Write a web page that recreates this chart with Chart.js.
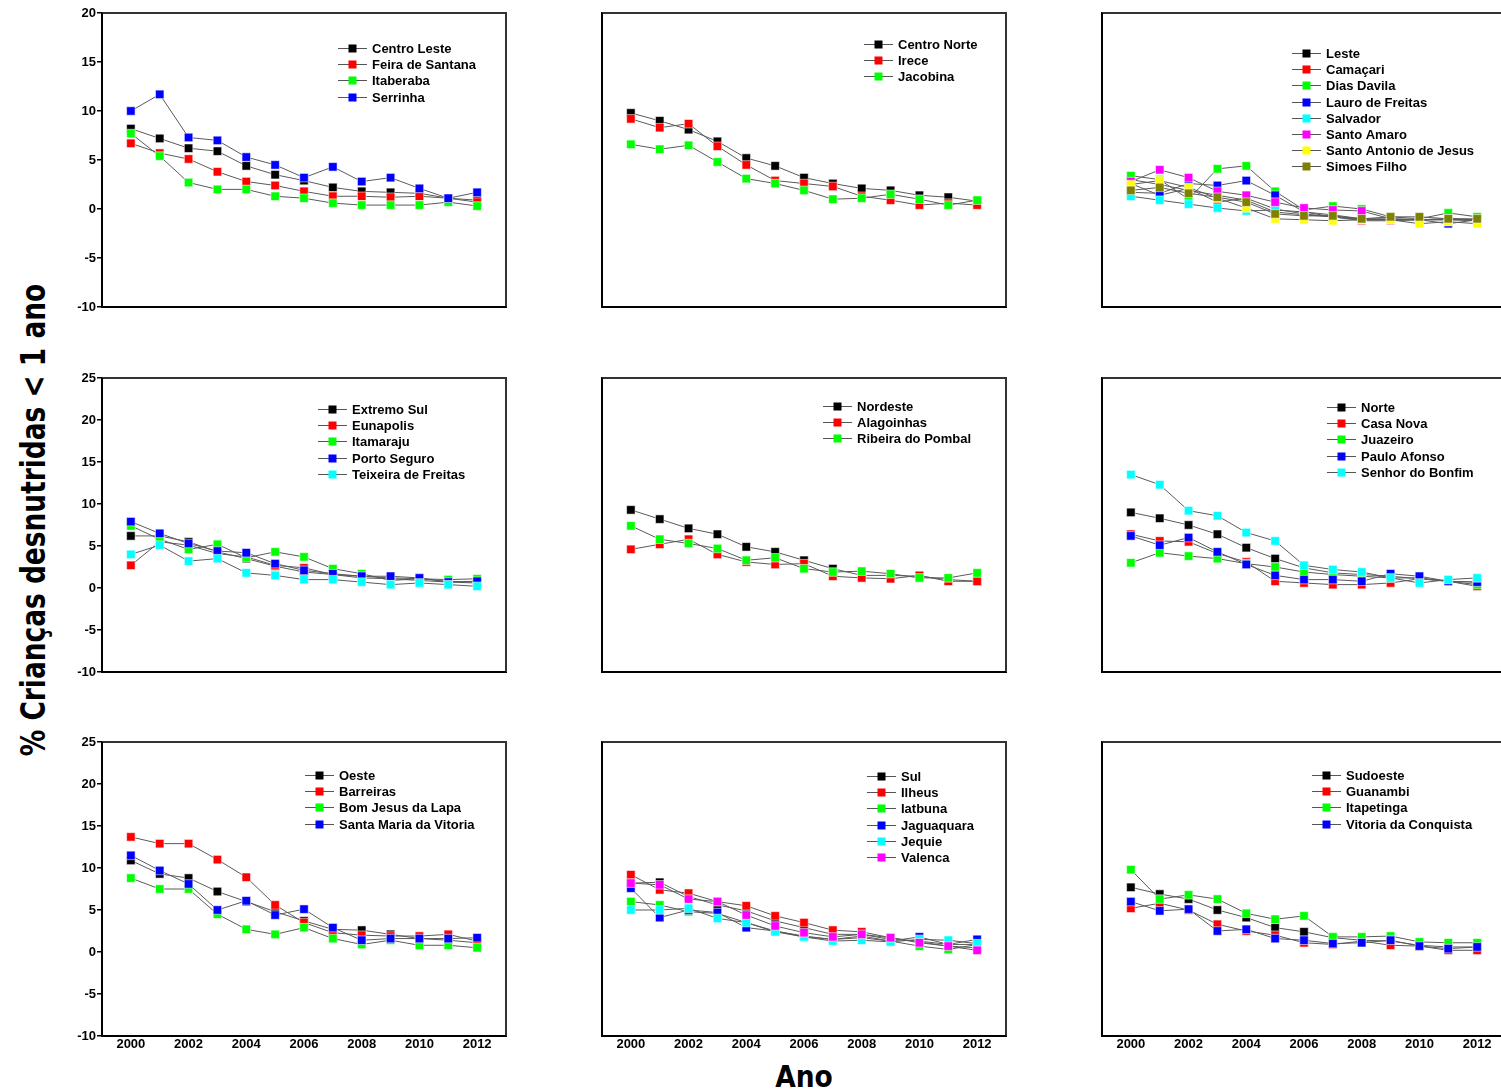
<!DOCTYPE html>
<html>
<head>
<meta charset="utf-8">
<script src="https://cdn.jsdelivr.net/npm/chart.js@4/dist/chart.umd.min.js"></script>
<style>
html,body{margin:0;padding:0;background:#fff;overflow:hidden;width:1501px;height:1092px;}
canvas.pc{position:absolute;}
#ytitle{position:absolute;left:33px;top:520px;transform:translate(-50%,-50%) rotate(-90deg) scaleX(0.89);
  font-family:"Liberation Sans Narrow","DejaVu Sans Condensed","Liberation Sans",sans-serif;font-weight:bold;font-size:33px;white-space:nowrap;color:#000;}
#xtitle{position:absolute;left:804px;top:1076px;transform:translate(-50%,-50%) scaleX(0.95);
  font-family:"Liberation Sans Narrow","DejaVu Sans Condensed","Liberation Sans",sans-serif;font-weight:bold;font-size:31px;white-space:nowrap;color:#000;}
</style>
</head>
<body>
<div id="ytitle">% Crianças desnutridas &lt; 1 ano</div>
<div id="xtitle">Ano</div>
<script>
// ---- categories / ticks ----
const years = [2000,2001,2002,2003,2004,2005,2006,2007,2008,2009,2010,2011,2012];
const xTickLabels = [2000,2002,2004,2006,2008,2010,2012];
const yTicksRow1 = [-10,-5,0,5,10,15,20];
const yTicksRow23 = [-10,-5,0,5,10,15,20,25];

// ---- Centro Leste panel ----
const centroLesteLabels = ["Centro Leste","Feira de Santana","Itaberaba","Serrinha"];
const centroLeste    = [8.2,7.2,6.2,5.9,4.4,3.5,2.9,2.2,1.8,1.7,1.6,1.1,0.9];
const feiraDeSantana = [6.7,5.7,5.1,3.8,2.8,2.4,1.8,1.3,1.3,1.2,1.3,1.1,0.7];
const itaberaba      = [7.7,5.4,2.7,2.0,2.0,1.3,1.1,0.6,0.4,0.4,0.4,0.7,0.3];
const serrinha       = [10.0,11.7,7.3,7.0,5.3,4.5,3.2,4.3,2.8,3.2,2.1,1.1,1.7];

// ---- Centro Norte panel ----
const centroNorteLabels = ["Centro Norte","Irece","Jacobina"];
const centroNorte = [9.8,9.0,8.1,6.9,5.2,4.4,3.2,2.6,2.1,1.9,1.4,1.2,0.8];
const irece       = [9.2,8.3,8.7,6.4,4.5,2.9,2.6,2.3,1.3,0.9,0.4,0.6,0.4];
const jacobina    = [6.6,6.1,6.5,4.8,3.1,2.6,1.9,1.0,1.1,1.5,1.0,0.4,0.9];

// ---- Leste panel ----
const lesteLabels = ["Leste","Camaçari","Dias Davila","Lauro de Freitas","Salvador","Santo Amaro","Santo Antonio de Jesus","Simoes Filho"];
const leste          = [3.0,2.5,1.9,1.4,0.9,-0.3,-0.6,-0.8,-1.0,-1.0,-1.1,-1.1,-1.2];
const camacari       = [2.6,1.4,2.1,0.7,1.1,0.0,-0.5,-0.8,-1.2,-1.2,-1.1,-1.0,-1.1];
const diasDavila     = [3.4,3.0,1.0,4.1,4.4,1.8,-0.1,0.3,0.0,-0.8,-1.0,-0.4,-0.8];
const lauroDeFreitas = [1.7,1.6,2.6,2.4,2.9,1.4,-0.3,-0.8,-1.1,-1.1,-1.1,-1.5,-1.1];
const salvador       = [1.3,0.9,0.5,0.1,-0.2,-0.1,-0.3,-0.6,-1.0,-1.1,-1.1,-1.1,-1.1];
const santoAmaro     = [2.8,4.0,3.2,1.8,1.4,0.7,0.1,-0.1,-0.2,-1.0,-1.1,-1.0,-1.1];
const santoAntonio   = [2.5,2.9,2.2,1.1,0.1,-1.0,-1.1,-1.2,-1.1,-1.1,-1.5,-1.3,-1.5];
const simoesFilho    = [1.9,2.2,1.6,1.2,0.7,-0.5,-0.7,-0.7,-1.0,-0.8,-0.8,-1.0,-1.0];

// ---- Extremo Sul panel ----
const extremoSulLabels = ["Extremo Sul","Eunapolis","Itamaraju","Porto Seguro","Teixeira de Freitas"];
const extremoSul  = [6.2,6.2,5.5,4.3,3.5,2.6,1.9,1.6,1.4,1.2,1.1,0.8,0.7];
const eunapolis   = [2.7,5.5,5.1,4.1,3.7,2.7,2.4,1.6,1.2,1.1,0.9,0.7,0.6];
const itamaraju   = [7.4,5.8,4.6,5.2,3.6,4.3,3.7,2.3,1.7,0.9,1.1,1.0,1.1];
const portoSeguro = [7.9,6.5,5.3,4.4,4.2,2.9,2.1,1.7,1.4,1.4,1.2,0.7,0.8];
const teixeira    = [4.0,5.1,3.2,3.5,1.8,1.5,1.0,1.0,0.7,0.4,0.6,0.4,0.2];

// ---- Nordeste panel ----
const nordesteLabels = ["Nordeste","Alagoinhas","Ribeira do Pombal"];
const nordeste   = [9.3,8.2,7.1,6.4,4.9,4.3,3.3,2.3,1.5,1.5,1.4,1.0,0.8];
const alagoinhas = [4.6,5.2,5.8,4.0,3.1,2.8,2.9,1.4,1.2,1.1,1.5,0.8,0.8];
const ribeira    = [7.4,5.8,5.3,4.7,3.3,3.6,2.3,1.9,2.0,1.7,1.2,1.2,1.8];

// ---- Norte panel ----
const norteLabels = ["Norte","Casa Nova","Juazeiro","Paulo Afonso","Senhor do Bonfim"];
const norte        = [9.0,8.3,7.5,6.4,4.8,3.5,2.4,1.8,1.6,1.4,1.1,0.8,0.7];
const casaNova     = [6.4,5.6,5.5,4.1,3.1,0.8,0.6,0.4,0.4,0.6,1.1,0.8,0.2];
const juazeiro     = [3.0,4.2,3.8,3.5,2.9,2.5,1.9,1.6,1.4,1.2,1.2,0.8,0.4];
const pauloAfonso  = [6.2,5.1,6.0,4.3,2.8,1.5,1.0,1.0,0.8,1.7,1.4,0.8,0.7];
const senhorBonfim = [13.5,12.3,9.2,8.6,6.6,5.6,2.7,2.2,1.9,1.2,0.6,1.0,1.2];

// ---- Oeste panel ----
const oesteLabels = ["Oeste","Barreiras","Bom Jesus da Lapa","Santa Maria da Vitoria"];
const oeste      = [10.9,9.3,8.8,7.2,6.0,4.8,3.7,2.7,2.6,2.1,1.6,1.4,1.1];
const barreiras  = [13.7,12.9,12.9,11.0,8.9,5.6,3.5,2.3,2.0,1.9,1.9,2.1,1.3];
const bomJesus   = [8.8,7.5,7.5,4.5,2.7,2.1,2.9,1.6,0.9,1.4,0.8,0.8,0.5];
const santaMaria = [11.5,9.7,8.1,5.0,6.1,4.4,5.1,2.9,1.4,1.6,1.6,1.6,1.7];

// ---- Sul panel ----
const sulLabels = ["Sul","Ilheus","Iatbuna","Jaguaquara","Jequie","Valenca"];
const sul        = [8.2,8.3,6.6,5.6,4.9,3.7,2.9,2.1,2.1,1.5,1.3,0.9,0.9];
const ilheus     = [9.2,7.4,7.0,6.0,5.5,4.3,3.5,2.6,2.4,1.7,1.2,0.7,0.5];
const iatbuna    = [6.0,5.6,4.8,4.6,3.5,2.5,1.9,1.5,1.7,1.3,0.7,0.3,0.9];
const jaguaquara = [7.6,4.1,5.0,4.7,2.9,2.5,1.8,1.5,1.9,1.3,1.8,0.9,1.5];
const jequie     = [5.0,5.0,5.2,4.0,3.5,2.4,1.8,1.3,1.4,1.2,1.5,1.4,1.0];
const valenca    = [8.2,8.0,6.3,6.0,4.4,3.1,2.3,1.8,2.1,1.7,1.1,0.7,0.2];

// ---- Sudoeste panel ----
const sudoesteLabels = ["Sudoeste","Guanambi","Itapetinga","Vitoria da Conquista"];
const sudoeste   = [7.7,6.9,6.3,5.0,4.1,2.9,2.4,1.7,1.4,1.3,0.8,0.6,0.6];
const guanambi   = [5.2,5.8,5.0,3.3,2.5,2.0,1.1,0.9,1.3,0.8,0.7,0.2,0.2];
const itapetinga = [9.8,6.3,6.8,6.3,4.6,3.9,4.3,1.8,1.8,1.9,1.2,1.1,1.1];
const vitoria    = [6.0,4.9,5.1,2.5,2.7,1.6,1.4,1.0,1.1,1.4,0.7,0.4,0.6];

const seriesColors = ["#000000","#ff0000","#00ff00","#0000ff","#00ffff","#ff00ff","#ffff00","#808000"];

// ---- panel layout ----
const colLeft = [102,602,1102];
const rowTop = [13,378,742];
const plotW = 404, plotH = 294;
const padL = 50, padT = 10, padR = 10, padB = 32;

const panels = [
  {r:0,c:0,labels:centroLesteLabels,series:[centroLeste,feiraDeSantana,itaberaba,serrinha],leg:[236,35]},
  {r:0,c:1,labels:centroNorteLabels,series:[centroNorte,irece,jacobina],leg:[262,31]},
  {r:0,c:2,labels:lesteLabels,series:[leste,camacari,diasDavila,lauroDeFreitas,salvador,santoAmaro,santoAntonio,simoesFilho],leg:[190,40]},
  {r:1,c:0,labels:extremoSulLabels,series:[extremoSul,eunapolis,itamaraju,portoSeguro,teixeira],leg:[216,31]},
  {r:1,c:1,labels:nordesteLabels,series:[nordeste,alagoinhas,ribeira],leg:[221,28]},
  {r:1,c:2,labels:norteLabels,series:[norte,casaNova,juazeiro,pauloAfonso,senhorBonfim],leg:[225,29]},
  {r:2,c:0,labels:oesteLabels,series:[oeste,barreiras,bomJesus,santaMaria],leg:[203,33]},
  {r:2,c:1,labels:sulLabels,series:[sul,ilheus,iatbuna,jaguaquara,jequie,valenca],leg:[265,34]},
  {r:2,c:2,labels:sudoesteLabels,series:[sudoeste,guanambi,itapetinga,vitoria],leg:[210,33]}
];

const FONT = "'Liberation Sans', Arial, sans-serif";

const framePlugin = {
  id:'frame',
  afterDatasetsDraw(chart){
    const a = chart.chartArea, ctx = chart.ctx;
    ctx.save();
    ctx.strokeStyle = '#333';
    ctx.lineWidth = 2;
    ctx.beginPath();
    ctx.moveTo(a.left, a.top); ctx.lineTo(a.right, a.top); ctx.lineTo(a.right, a.bottom);
    ctx.stroke();
    ctx.strokeStyle = '#000';
    ctx.beginPath();
    ctx.moveTo(a.left, a.top); ctx.lineTo(a.left, a.bottom); ctx.lineTo(a.right, a.bottom);
    ctx.stroke();
    ctx.restore();
  }
};

const legendPlugin = {
  id:'boxLegend',
  afterDraw(chart, args, opts){
    const a = chart.chartArea, ctx = chart.ctx;
    const x0 = a.left + opts.x, y0 = a.top + opts.y;
    ctx.save();
    ctx.font = "bold 13px " + FONT;
    ctx.textBaseline = 'middle';
    ctx.textAlign = 'left';
    chart.data.datasets.forEach((ds, i) => {
      const y = Math.round(y0 + i * 16.2) + 0.5;
      ctx.strokeStyle = '#555';
      ctx.lineWidth = 1;
      ctx.beginPath(); ctx.moveTo(x0, y); ctx.lineTo(x0 + 29, y); ctx.stroke();
      ctx.fillStyle = ds.pointBackgroundColor;
      ctx.fillRect(x0 + 10.5, y - 4, 8, 8);
      ctx.fillStyle = '#000';
      ctx.fillText(ds.label, x0 + 34, y + 1);
    });
    ctx.restore();
  }
};

panels.forEach((p, idx) => {
  const cv = document.createElement('canvas');
  cv.className = 'pc';
  const W = plotW + padL + padR, H = plotH + padT + padB;
  cv.width = W; cv.height = H;
  cv.style.left = (colLeft[p.c] - padL) + 'px';
  cv.style.top = (rowTop[p.r] - padT) + 'px';
  cv.style.width = W + 'px'; cv.style.height = H + 'px';
  document.body.appendChild(cv);

  const n = p.series.length;
  const datasets = p.series.map((arr, i) => ({
    label: p.labels[i],
    data: years.map((yr, k) => ({x: yr, y: arr[k]})),
    borderColor: '#5a5a5a',
    borderWidth: 1,
    pointStyle: 'rect',
    pointRadius: 6,
    pointHoverRadius: 6,
    pointBackgroundColor: seriesColors[i],
    pointBorderColor: 'rgba(255,255,255,0.55)',
    pointBorderWidth: 1,
    order: n - i,
    tension: 0,
    fill: false
  }));

  const leftCol = p.c === 0, bottomRow = p.r === 2;
  const yTicks = p.r === 0 ? yTicksRow1 : yTicksRow23;

  new Chart(cv, {
    type: 'line',
    data: { datasets },
    plugins: [framePlugin, legendPlugin],
    options: {
      responsive: false,
      devicePixelRatio: 1,
      animation: false,
      events: [],
      layout: { padding: { left: 0, top: padT, right: padR, bottom: 0 } },
      plugins: {
        legend: { display: false },
        tooltip: { enabled: false },
        title: { display: false },
        boxLegend: { x: p.leg[0], y: p.leg[1] }
      },
      scales: {
        x: {
          type: 'linear',
          min: 1999, max: 2013,
          afterBuildTicks(scale){ scale.ticks = xTickLabels.map(v => ({value: v})); },
          afterFit(scale){ scale.height = padB; },
          grid: { display: false, drawTicks: false },
          border: { display: true, color: '#000', width: 2 },
          ticks: {
            display: bottomRow,
            padding: 1,
            autoSkip: false,
            maxRotation: 0,
            color: '#000',
            font: { family: FONT, weight: 'bold', size: 13 },
            callback: v => String(v)
          }
        },
        y: {
          type: 'linear',
          min: yTicks[0], max: yTicks[yTicks.length - 1],
          afterBuildTicks(scale){ scale.ticks = yTicks.map(v => ({value: v})); },
          afterFit(scale){ scale.width = padL; },
          grid: { display: leftCol, drawOnChartArea: false, drawTicks: true, tickLength: 5, color: '#000', lineWidth: 1.5 },
          border: { display: true, color: '#000', width: 2 },
          ticks: {
            display: leftCol,
            padding: 1,
            color: '#000',
            font: { family: FONT, weight: 'bold', size: 13 },
            callback: v => String(v)
          }
        }
      }
    }
  });
});
</script>
</body>
</html>
